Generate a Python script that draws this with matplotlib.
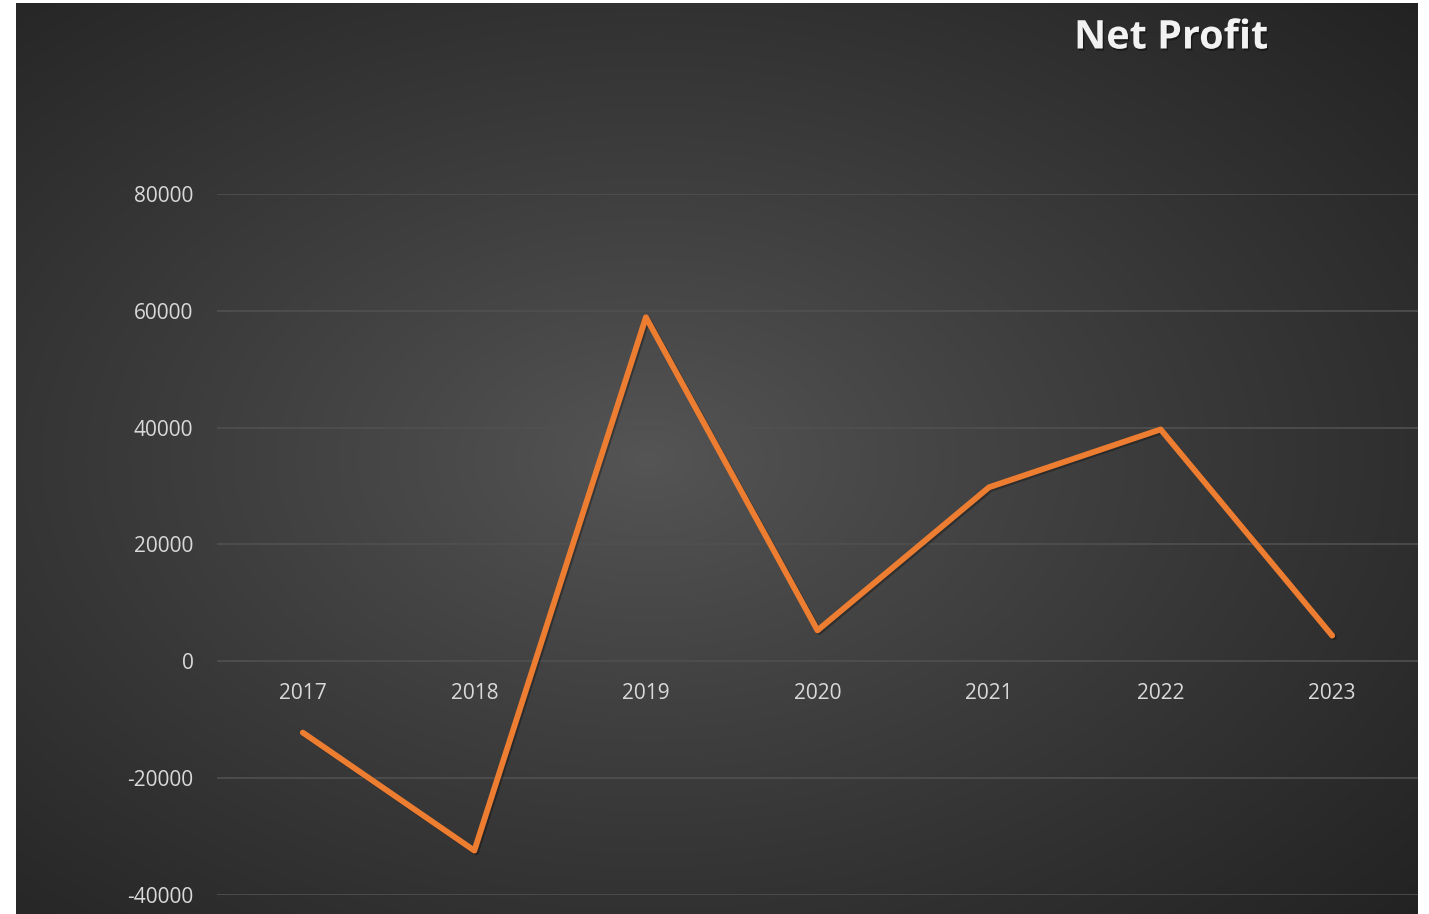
import numpy as np
import matplotlib
matplotlib.use("Agg")
import matplotlib.pyplot as plt
import matplotlib.patheffects as pe

# datos del gráfico
years = ["2017", "2018", "2019", "2020", "2021", "2022", "2023"]
net_profit = [-12200, -32400, 58900, 5300, 29800, 39700, 4400]
yticks = [-40000, -20000, 0, 20000, 40000, 60000, 80000]

W, H = 1429, 914
fig = plt.figure(figsize=(W / 100, H / 100), dpi=100)
fig.patch.set_facecolor("white")

# panel de fondo con degradado radial
bg = fig.add_axes([16 / W, 0, (1418 - 16) / W, 1 - 3 / H])
ny, nx = 400, 620
yy, xx = np.mgrid[0:ny, 0:nx]
cx, cy = nx * 0.45, ny * 0.50
r = np.sqrt(((xx - cx) / nx) ** 2 + ((yy - cy) / ny) ** 2)
r = np.clip(r / 0.75, 0, 1)
inner, outer = 0x55 / 255, 0x22 / 255
val = inner + (outer - inner) * r ** 0.9
img = np.dstack([val, val, val])
bg.imshow(img, aspect="auto", interpolation="bilinear")
bg.axis("off")

# ejes principales
ax = fig.add_axes([217 / W, 1 - 895 / H, (1418 - 217) / W, (895 - 194) / H])
ax.patch.set_alpha(0)
x = np.arange(len(years))
ax.plot(x, net_profit, color="#ED7D31", lw=4.2, solid_capstyle="round",
        solid_joinstyle="round", zorder=3,
        path_effects=[pe.SimpleLineShadow(offset=(1.2, -1.2), alpha=0.3, shadow_color="black"),
                      pe.Normal()])
ax.set_xlim(-0.5, len(years) - 0.5)
ax.set_ylim(-40000, 80000)
ax.set_yticks(yticks)
ax.set_yticklabels([str(v) for v in yticks])
ax.grid(axis="y", color="#505050", lw=1.2)
ax.set_axisbelow(True)
for s in ax.spines.values():
    s.set_visible(False)
ax.tick_params(axis="y", length=0, pad=17, labelsize=15, labelcolor="#D9D9D9")
ax.set_xticks([])
for lab in ax.get_yticklabels():
    lab.set_family(["Open Sans", "DejaVu Sans"])

# etiquetas de categorías justo debajo del cero
for i, yr in enumerate(years):
    ax.annotate(yr, (i, 0), xytext=(0, -23.5), textcoords="offset points",
                ha="center", va="center", fontsize=15, color="#D9D9D9",
                family=["Open Sans", "DejaVu Sans"])

# título
fig.text(1171 / W, 1 - 38 / H, "Net Profit", ha="center", va="center",
         fontsize=28.5, fontweight="bold", color="#F2F2F2",
         family=["Open Sans", "DejaVu Sans"],
         path_effects=[pe.withSimplePatchShadow(offset=(1, -1.5), alpha=0.4, shadow_rgbFace="black")])

fig.savefig("out.png", dpi=100, facecolor=fig.get_facecolor())
